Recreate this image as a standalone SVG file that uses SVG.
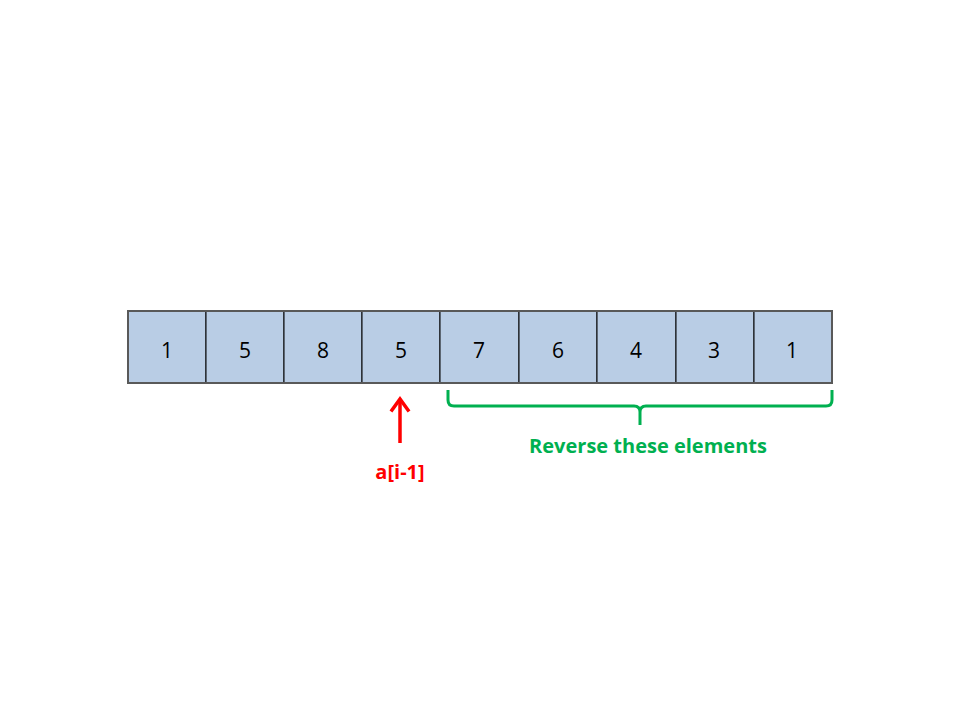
<svg xmlns="http://www.w3.org/2000/svg" width="960" height="720" viewBox="0 0 960 720">
<style>
.cell{fill:#b9cde5;stroke:#000;stroke-width:1}
.num{font-family:"Open Sans","Liberation Sans",sans-serif;font-size:21px;fill:#000;text-anchor:middle}
.lbl{font-family:"Open Sans","Liberation Sans",sans-serif;font-size:20px;font-weight:bold;text-anchor:middle}
</style>
<rect width="960" height="720" fill="#fff"/>
<g id="array">
<g id="c0"><rect class="cell" x="128" y="311" width="78" height="72"/><text class="num" x="167" y="358">1</text></g>
<g id="c1"><rect class="cell" x="206" y="311" width="78" height="72"/><text class="num" x="245" y="358">5</text></g>
<g id="c2"><rect class="cell" x="284" y="311" width="78" height="72"/><text class="num" x="323" y="358">8</text></g>
<g id="c3"><rect class="cell" x="362" y="311" width="78" height="72"/><text class="num" x="401" y="358">5</text></g>
<g id="c4"><rect class="cell" x="440" y="311" width="79" height="72"/><text class="num" x="479" y="358">7</text></g>
<g id="c5"><rect class="cell" x="519" y="311" width="78" height="72"/><text class="num" x="558" y="358">6</text></g>
<g id="c6"><rect class="cell" x="597" y="311" width="79" height="72"/><text class="num" x="636" y="358">4</text></g>
<g id="c7"><rect class="cell" x="676" y="311" width="78" height="72"/><text class="num" x="714" y="358">3</text></g>
<g id="c8"><rect class="cell" x="754" y="311" width="78" height="72"/><text class="num" x="792" y="358">1</text></g>
<rect x="128" y="311" width="704" height="72" fill="none" stroke="#595959" stroke-width="2"/>
</g>
<g id="connectors">
<g id="pointer" stroke="#ff0000" stroke-width="3.5" fill="none">
<line x1="400" y1="443" x2="400" y2="400"/>
<polyline points="392,410 400,399 408,410" stroke-linecap="square"/>
</g>
<path id="brace" d="M448,390 V400 Q448,406 454,406 H634 Q640,406 640,412 V425 M640,412 Q640,406 646,406 H826 Q832,406 832,400 V390" fill="none" stroke="#00b050" stroke-width="3"/>
</g>
<g id="labels">
<text class="lbl" x="400" y="479" fill="#ff0000">a[i-1]</text>
<text class="lbl" x="648" y="453" fill="#00b050">Reverse these elements</text>
</g>
</svg>
